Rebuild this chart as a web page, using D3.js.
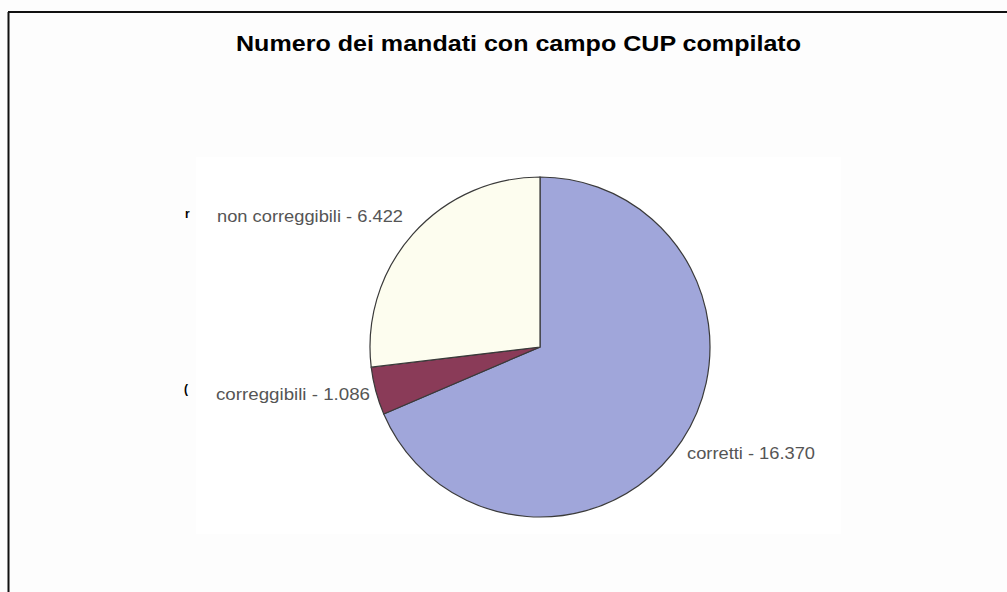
<!DOCTYPE html>
<html>
<head>
<meta charset="utf-8">
<script src="https://cdn.jsdelivr.net/npm/d3@7"></script>
<style>
  body { margin: 0; background: #fdfdfd; }
  svg { display: block; }
</style>
</head>
<body>
<svg id="chart"></svg>
<script>
const width = 1007,
  height = 592;

// data
const categories = ["corretti", "correggibili", "non correggibili"];
const values = [16370, 1086, 6422];
const valueLabels = ["16.370", "1.086", "6.422"];
const colors = ["#a0a6da", "#8a3b58", "#fdfdef"];

const svg = d3
  .select("#chart")
  .attr("width", width)
  .attr("height", height);

// page background and frame (only top and left edges show)
svg.append("rect").attr("width", width).attr("height", height).attr("fill", "#fdfdfd");
svg.append("line").attr("x1", 8).attr("x2", width).attr("y1", 12).attr("y2", 12)
  .attr("stroke", "#111").attr("stroke-width", 2);
svg.append("line").attr("x1", 8.5).attr("x2", 8.5).attr("y1", 12).attr("y2", height)
  .attr("stroke", "#111").attr("stroke-width", 2);

// plot area
svg.append("rect")
  .attr("x", 196).attr("y", 157)
  .attr("width", 645).attr("height", 377)
  .attr("fill", "#ffffff");

svg.append("text")
  .attr("x", 236)
  .attr("y", 51)
  .attr("textLength", 565)
  .attr("lengthAdjust", "spacingAndGlyphs")
  .style("font-family", "Liberation Sans, Arial, sans-serif")
  .style("font-weight", "bold")
  .style("font-size", "21.5px")
  .attr("fill", "#000")
  .text("Numero dei mandati con campo CUP compilato");

// clipped leftovers at the left of the plot area
svg.append("text").attr("x", 185).attr("y", 218)
  .style("font-family", "Liberation Sans, Arial, sans-serif")
  .style("font-weight", "bold").style("font-size", "12px")
  .text("r");
svg.append("text").attr("x", 184).attr("y", 393)
  .style("font-family", "Liberation Sans, Arial, sans-serif")
  .style("font-weight", "bold").style("font-size", "12px")
  .text("(");

const cx = 540,
  cy = 347,
  radius = 170;

const data = categories.map((c, i) => ({ name: c, value: values[i], label: valueLabels[i], color: colors[i] }));

const pie = d3.pie().sort(null).value(d => d.value);
const arc = d3.arc().innerRadius(0).outerRadius(radius);

const g = svg.append("g").attr("transform", "translate(" + cx + "," + cy + ")");

g.selectAll("path")
  .data(pie(data))
  .enter()
  .append("path")
  .attr("d", arc)
  .attr("fill", d => d.data.color)
  .attr("stroke", "#3a3a3a")
  .attr("stroke-width", 1.2);

// label positions (relative to pie centre) and rendered widths
const labelPos = {
  "corretti": { x: 147, y: 112, len: 128 },
  "correggibili": { x: -324, y: 53, len: 154 },
  "non correggibili": { x: -323, y: -125, len: 186 }
};

g.selectAll("text.lbl")
  .data(data)
  .enter()
  .append("text")
  .attr("class", "lbl")
  .attr("x", d => labelPos[d.name].x)
  .attr("y", d => labelPos[d.name].y)
  .attr("textLength", d => labelPos[d.name].len)
  .attr("lengthAdjust", "spacingAndGlyphs")
  .style("font-family", "Liberation Sans, Arial, sans-serif")
  .style("font-size", "16.5px")
  .attr("fill", "#555")
  .text(d => d.name + " - " + d.label);
</script>
</body>
</html>
